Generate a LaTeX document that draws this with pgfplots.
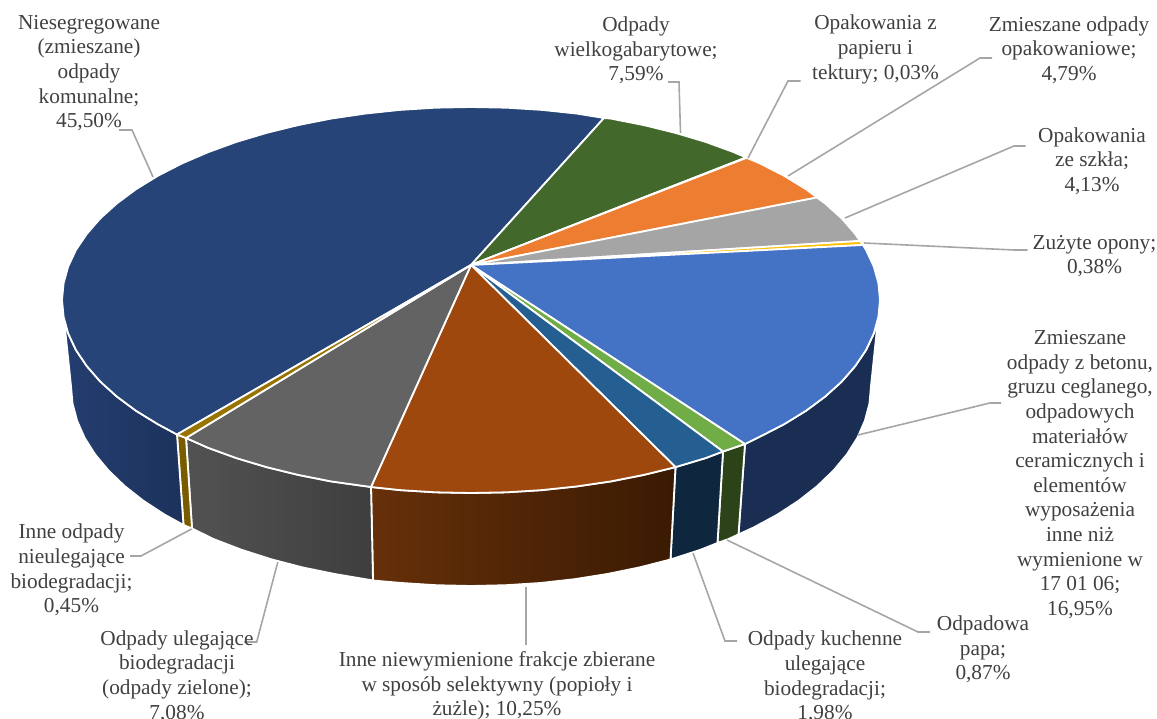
\documentclass[border=0pt]{standalone}
\usepackage{fontspec}
\setmainfont{Liberation Serif}
\usepackage{pgfplots}
\pgfplotsset{compat=1.18}

% top faces
\definecolor{navytop}{HTML}{264478}
\definecolor{greentop}{HTML}{43682B}
\definecolor{paper}{HTML}{5B9BD5}
\definecolor{orangetop}{HTML}{ED7D31}
\definecolor{greytop}{HTML}{A5A5A5}
\definecolor{yellowtop}{HTML}{FFC000}
\definecolor{bluetop}{HTML}{4472C4}
\definecolor{lgreentop}{HTML}{70AD47}
\definecolor{dbluetop}{HTML}{255E91}
\definecolor{browntop}{HTML}{9E480E}
\definecolor{dgreytop}{HTML}{636363}
\definecolor{goldtop}{HTML}{997300}
% side walls
\definecolor{bluewall}{HTML}{1A2D52}
\definecolor{lgreenwall}{HTML}{2C431A}
\definecolor{dbluewall}{HTML}{0E263E}
\definecolor{brownwallL}{HTML}{663009}
\definecolor{brownwallR}{HTML}{3A1A03}
\definecolor{greywallL}{HTML}{525252}
\definecolor{greywallR}{HTML}{3E3E3E}
\definecolor{goldwall}{HTML}{7A5C00}
\definecolor{navywallL}{HTML}{243E70}
\definecolor{navywallR}{HTML}{1C325C}
\definecolor{leader}{HTML}{A6A6A6}
\definecolor{labeltext}{HTML}{404040}

\tikzset{
    slice/.style={draw=white, line width=1.8pt, line join=round},
    lead/.style={draw=leader, line width=1.6pt},
    lab/.style={font=\fontsize{21.3}{24.6}\selectfont, text=labeltext, align=center, inner sep=0pt, anchor=center},
}

\begin{document}
\begin{tikzpicture}
\begin{axis}[
    scale only axis,
    width=1157pt,
    height=719pt,
    xmin=0, xmax=1157,
    ymin=0, ymax=719,
    y dir=reverse,
    hide axis,
    clip=false,
]

% side walls, right to left
\addplot[slice, mark=none, fill=bluewall] coordinates {
    (880,300) (878.4,316.8) (873.8,333.5) (866.1,349.9) (855.3,366) (841.7,381.6) (825.2,396.5)
    (806.1,410.7) (784.3,424.1) (760.2,436.5) (745,444)
    (738.5,534.4) (753.8,527.4) (777.4,514.6) (798.7,500.7) (817.4,486) (833.5,470.5) (846.9,454.4)
    (857.4,437.8) (864.9,420.7) (869.5,403.4) (871,386) (880,300)};
\addplot[slice, mark=none, fill=lgreenwall] coordinates {
    (745,444) (733.9,447.8) (723,451.5) (717.5,543) (728.1,539.2) (738.5,534.4) (745,444)};
\addplot[slice, mark=none, fill=dbluewall] coordinates {
    (723,451.5) (705.6,458.1) (675.5,467.1) (670.5,559.5) (700.4,549.8) (717.5,543) (723,451.5)};
\addplot[slice, mark=none, left color=brownwallL, right color=brownwallR] coordinates {
    (675.5,467.1) (643.8,474.9) (610.9,481.4) (576.9,486.4) (542,490.1) (506.7,492.3) (471,493)
    (435.3,492.3) (400,490.1) (371,487)
    (373,580.5) (401.6,583) (436.1,585.2) (471,586) (505.9,585.2) (540.4,583) (574.5,579.2)
    (607.8,573.9) (640,567.3) (670.5,559.5) (675.5,467.1)};
\addplot[slice, mark=none, left color=greywallL, right color=greywallR] coordinates {
    (371,487) (331.1,481.4) (298.2,474.9) (266.5,467.1) (236.4,458.1) (208.1,447.8) (186,438)
    (192,528.5) (213.9,539.2) (241.6,549.8) (271,559.2) (302,567.3) (334.2,573.9) (373,580.5) (371,487)};
\addplot[slice, mark=none, fill=goldwall] coordinates {
    (186,438) (177,434.5) (183.5,525) (192,528.5) (186,438)};
\addplot[slice, mark=none, left color=navywallL, right color=navywallR] coordinates {
    (177,434.5) (157.7,424.1) (135.9,410.7) (116.8,396.5) (100.3,381.6) (86.7,366) (75.9,349.9)
    (68.2,333.5) (63.6,316.8) (62,300)
    (71,386) (72.5,403.4) (77.1,420.7) (84.6,437.8) (95.1,454.4) (108.5,470.5) (124.6,486)
    (143.3,500.7) (164.6,514.6) (183.5,525) (177,434.5)};

% top faces
\addplot[slice, mark=none, fill=navytop] coordinates {
    (471,265) (177,434.5) (157.7,424.1) (135.9,410.7) (116.8,396.5) (100.3,381.6) (86.7,366) (75.9,349.9)
    (68.2,333.5) (63.6,316.8) (62,300) (63.6,283.2) (68.2,266.5) (75.9,250.1) (86.7,234) (100.3,218.4)
    (116.8,203.5) (135.9,189.3) (157.7,175.9) (181.8,163.5) (208.1,152.2) (236.4,141.9) (266.5,132.9)
    (298.2,125.1) (331.1,118.6) (365.1,113.6) (400,109.9) (435.3,107.7) (471,107) (506.7,107.7)
    (542,109.9) (576.9,113.6) (604,118) (471,265)};
\addplot[slice, mark=none, fill=greentop] coordinates {
    (471,265) (604,118) (610.9,118.6) (643.8,125.1) (675.5,132.9) (705.6,141.9) (733.9,152.2) (746,157.5) (471,265)};
\addplot[slice, mark=none, fill=paper] coordinates {
    (471,265) (746,157.5) (746.7,157.8) (471,265)};
\addplot[slice, mark=none, fill=orangetop] coordinates {
    (471,265) (746.7,157.8) (760.2,163.5) (784.3,175.9) (806.1,189.3) (817,197.5) (471,265)};
\addplot[slice, mark=none, fill=greytop] coordinates {
    (471,265) (817,197.5) (825.2,203.5) (841.7,218.4) (855.3,234) (860,241) (471,265)};
\addplot[slice, mark=none, fill=yellowtop] coordinates {
    (471,265) (860,241) (863,245) (471,265)};
\addplot[slice, mark=none, fill=bluetop] coordinates {
    (471,265) (863,245) (866.1,250.1) (873.8,266.5) (878.4,283.2) (880,300) (878.4,316.8) (873.8,333.5)
    (866.1,349.9) (855.3,366) (841.7,381.6) (825.2,396.5) (806.1,410.7) (784.3,424.1) (760.2,436.5)
    (745,444) (471,265)};
\addplot[slice, mark=none, fill=lgreentop] coordinates {
    (471,265) (745,444) (733.9,447.8) (723,451.5) (471,265)};
\addplot[slice, mark=none, fill=dbluetop] coordinates {
    (471,265) (723,451.5) (705.6,458.1) (675.5,467.1) (471,265)};
\addplot[slice, mark=none, fill=browntop] coordinates {
    (471,265) (675.5,467.1) (643.8,474.9) (610.9,481.4) (576.9,486.4) (542,490.1) (506.7,492.3) (471,493)
    (435.3,492.3) (400,490.1) (371,487) (471,265)};
\addplot[slice, mark=none, fill=dgreytop] coordinates {
    (471,265) (371,487) (331.1,481.4) (298.2,474.9) (266.5,467.1) (236.4,458.1) (208.1,447.8) (186,438) (471,265)};
\addplot[slice, mark=none, fill=goldtop] coordinates {
    (471,265) (186,438) (177,434.5) (471,265)};

% leader lines
\addplot[lead, mark=none] coordinates {(119,130) (132,130) (153,177)};
\addplot[lead, mark=none] coordinates {(668,82) (679,82) (680.5,133)};
\addplot[lead, mark=none] coordinates {(800.6,81) (788,81) (748,158)};
\addplot[lead, mark=none] coordinates {(992,58) (980,58) (788,176)};
\addplot[lead, mark=none] coordinates {(1025.6,146) (1014,146) (845,218)};
\addplot[lead, mark=none] coordinates {(1027.6,250) (1014,250) (864,243)};
\addplot[lead, mark=none] coordinates {(1001,403) (990,403) (858,435)};
\addplot[lead, mark=none] coordinates {(930,632) (918,632) (727,540)};
\addplot[lead, mark=none] coordinates {(737,641) (725,641) (693,553)};
\addplot[lead, mark=none] coordinates {(526,587) (526,645)};
\addplot[lead, mark=none] coordinates {(244,642) (256.7,642) (277.8,562)};
\addplot[lead, mark=none] coordinates {(130,556) (141,556) (191.5,529)};

% labels
\node[lab] at (axis cs:89,73) {Niesegregowane\\(zmieszane)\\odpady\\komunalne;\\45,50\%};
\node[lab] at (axis cs:636,50.5) {Odpady\\wielkogabarytowe;\\7,59\%};
\node[lab] at (axis cs:875.5,49.5) {Opakowania z\\papieru i\\tektury; 0,03\%};
\node[lab] at (axis cs:1069,50) {Zmieszane odpady\\opakowaniowe;\\4,79\%};
\node[lab] at (axis cs:1092,161) {Opakowania\\ze szkła;\\4,13\%};
\node[lab] at (axis cs:1094.5,256) {Zużyte opony;\\0,38\%};
\node[lab] at (axis cs:1080,474.5) {Zmieszane\\odpady z betonu,\\gruzu ceglanego,\\odpadowych\\materiałów\\ceramicznych i\\elementów\\wyposażenia\\inne niż\\wymienione w\\17 01 06;\\16,95\%};
\node[lab] at (axis cs:983,649.5) {Odpadowa\\papa;\\0,87\%};
\node[lab] at (axis cs:825,677) {Odpady kuchenne\\ulegające\\biodegradacji;\\1,98\%};
\node[lab] at (axis cs:497,686) {Inne niewymienione frakcje zbierane\\w sposób selektywny (popioły i\\żużle); 10,25\%};
\node[lab] at (axis cs:177,676.5) {Odpady ulegające\\biodegradacji\\(odpady zielone);\\7,08\%};
\node[lab] at (axis cs:71.5,570) {Inne odpady\\nieulegające\\biodegradacji;\\0,45\%};
\end{axis}
\pgfresetboundingbox
\path[use as bounding box] (0,0) rectangle (1157pt,719pt);
\end{tikzpicture}
\end{document}
